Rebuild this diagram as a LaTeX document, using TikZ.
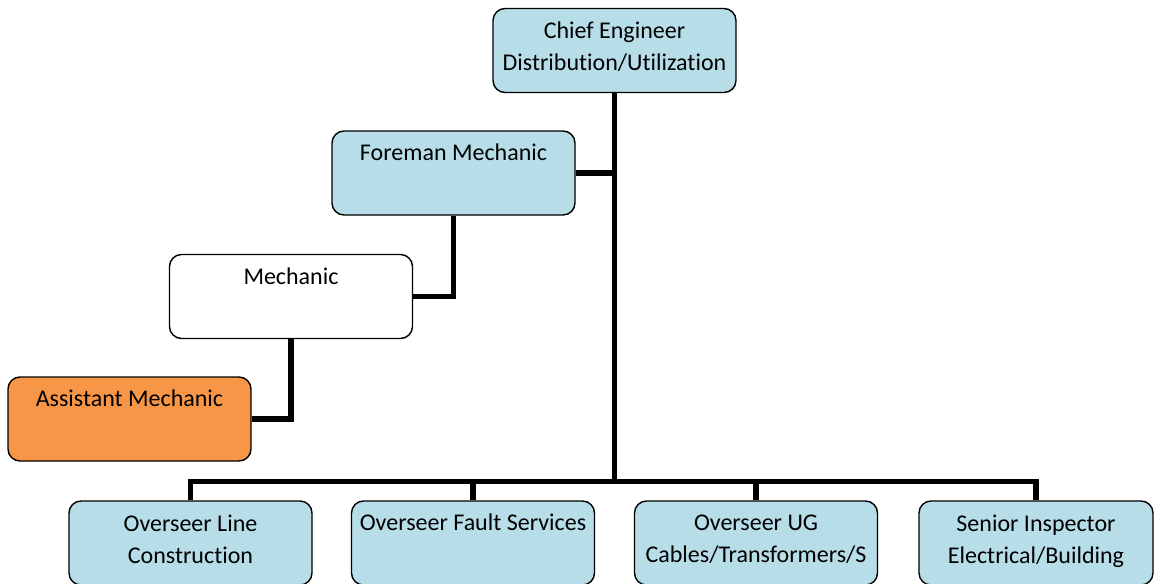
\documentclass[tikz,border=0pt]{standalone}
\usepackage{fontspec}
\setmainfont{Carlito}[Ligatures=NoCommon]
\usepackage{xcolor}
\usepackage{tikz}
\definecolor{OrgAqua}{HTML}{B7DEE8}
\definecolor{OrgOrange}{HTML}{F79646}
\tikzset{
  post/.style={draw=black,line width=0.7pt,rounded corners=6pt,fill=OrgAqua,align=center,
    minimum width=121.5pt,minimum height=42pt,inner sep=0pt,
    font=\fontsize{12}{16}\selectfont},
  plain/.style={post,fill=white},
  trainee/.style={post,fill=OrgOrange},
  link/.style={line width=2.8pt,draw=black}
}
\begin{document}
\begin{tikzpicture}[x=0.5pt,y=-0.5pt]
  \clip (0,0) rectangle (1155,583);
  \fill[white] (0,0) rectangle (1155,583);
  \node[post] (chief) at (614.5,50.5) {Chief Engineer\\Distribution/Utilization\\[-12pt]\mbox{}};
  \node[post] (foreman) at (453.5,173) {Foreman Mechanic\\\strut};
  \node[plain] (mech) at (291,296.5) {Mechanic\\\strut};
  \node[trainee] (asst) at (129.5,419) {Assistant Mechanic\\\strut};
  \node[post] (line) at (190.5,543) {Overseer Line\\Construction\\[-12pt]\mbox{}};
  \node[post] (fault) at (473,543) {Overseer Fault Services\\\strut};
  \node[post] (ug) at (756,543) {Overseer UG\\Cables/Transformers/S\\[-12pt]\mbox{}};
  \node[post,minimum width=117pt] (senior) at (1036,543) {Senior Inspector\\Electrical/Building\\[-12pt]\mbox{}};
  \coordinate (bus) at (614.5,481.5);
  \draw[link] (chief) -- (bus);
  \draw[link] (foreman.east) -- (foreman.east -| chief);
  \draw[link] (foreman) |- (mech);
  \draw[link] (mech) |- (asst);
  \draw[link] (line.north) |- (bus) -| (senior.north);
  \foreach \n in {fault,ug}
    \draw[link] (\n.north) -- (\n.north |- bus);
\end{tikzpicture}
\end{document}
